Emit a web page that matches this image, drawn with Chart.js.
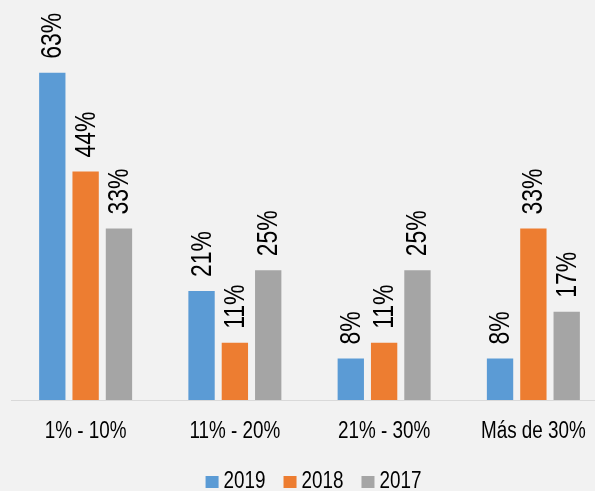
<!DOCTYPE html>
<html>
<head>
<meta charset="utf-8">
<script src="https://cdn.jsdelivr.net/npm/chart.js@4"></script>
<style>
  html, body { margin: 0; padding: 0; background: #f2f2f2; overflow: hidden; }
  body { width: 595px; height: 491px; }
</style>
</head>
<body>
<canvas id="graphique" width="620" height="491"></canvas>
<script>
// DONNEES DU GRAPHIQUE
const categories = ['1% - 10%', '11% - 20%', '21% - 30%', 'Más de 30%'];
const annees = ['2019', '2018', '2017'];
const valeurs2019 = [63, 21, 8, 8];
const valeurs2018 = [44, 11, 11, 33];
const valeurs2017 = [33, 25, 25, 17];
const couleurs = ['#5b9bd5', '#ed7d31', '#a5a5a5'];

const police = "'Liberation Sans', Arial, sans-serif";
// pas de police etroite installee : on compresse le texte a la main
const etroit = 0.82;

// ETIQUETTES VERTICALES, LIBELLES DE L'AXE X ET LEGENDE (texte compresse)
const textesPlugin = {
    id: 'textes',
    afterDatasetsDraw(chart) {
        const ctx = chart.ctx;
        ctx.save();
        ctx.fillStyle = '#000';

        // valeurs au dessus des barres
        ctx.font = '29px ' + police;
        ctx.textAlign = 'left';
        ctx.textBaseline = 'middle';
        chart.data.datasets.forEach((ds, i) => {
            chart.getDatasetMeta(i).data.forEach((barre, j) => {
                ctx.save();
                ctx.translate(barre.x + 1, barre.y - 14);
                ctx.rotate(-Math.PI / 2);
                ctx.scale(0.79, 1);
                ctx.fillText(ds.data[j] + '%', 0, 0);
                ctx.restore();
            });
        });

        // libelles des categories
        const x = chart.scales.x;
        ctx.font = '23px ' + police;
        ctx.textAlign = 'center';
        ctx.textBaseline = 'alphabetic';
        categories.forEach((cat, i) => {
            ctx.save();
            ctx.translate(x.getPixelForValue(i), x.bottom + 38);
            ctx.scale(etroit, 1);
            ctx.fillText(cat, 0, 0);
            ctx.restore();
        });

        // legende
        const carre = 13, ecartCarre = 5, ecartItem = 18;
        ctx.textAlign = 'left';
        const largeurs = annees.map(a => ctx.measureText(a).width * etroit);
        let total = 0;
        largeurs.forEach((w, i) => {
            total += carre + ecartCarre + w + (i < annees.length - 1 ? ecartItem : 0);
        });
        let lx = 313.5 - total / 2;
        const ly = 488;
        annees.forEach((a, i) => {
            ctx.fillStyle = couleurs[i];
            ctx.fillRect(lx, ly - 12, carre, carre - 1);
            lx += carre + ecartCarre;
            ctx.fillStyle = '#000';
            ctx.save();
            ctx.translate(lx, ly);
            ctx.scale(etroit, 1);
            ctx.fillText(a, 0, 0);
            ctx.restore();
            lx += largeurs[i] + ecartItem;
        });
        ctx.restore();
    }
};

const series = [valeurs2019, valeurs2018, valeurs2017];

new Chart(document.getElementById('graphique'), {
    type: 'bar',
    data: {
        labels: categories,
        datasets: series.map((vals, i) => ({
            label: annees[i],
            data: vals,
            backgroundColor: couleurs[i],
            categoryPercentage: 0.67,
            barPercentage: 0.79,
        }))
    },
    options: {
        responsive: false,
        animation: false,
        layout: { padding: { left: 11, right: 12, top: 0, bottom: 91 } },
        plugins: {
            legend: { display: false },
            tooltip: { enabled: false },
        },
        scales: {
            y: {
                display: false,
                min: 0,
                max: 77,
            },
            x: {
                grid: { display: false, drawTicks: false },
                border: { display: true, color: '#d9d9d9', width: 1 },
                ticks: { display: false },
            },
        },
    },
    plugins: [textesPlugin],
});
</script>
</body>
</html>
